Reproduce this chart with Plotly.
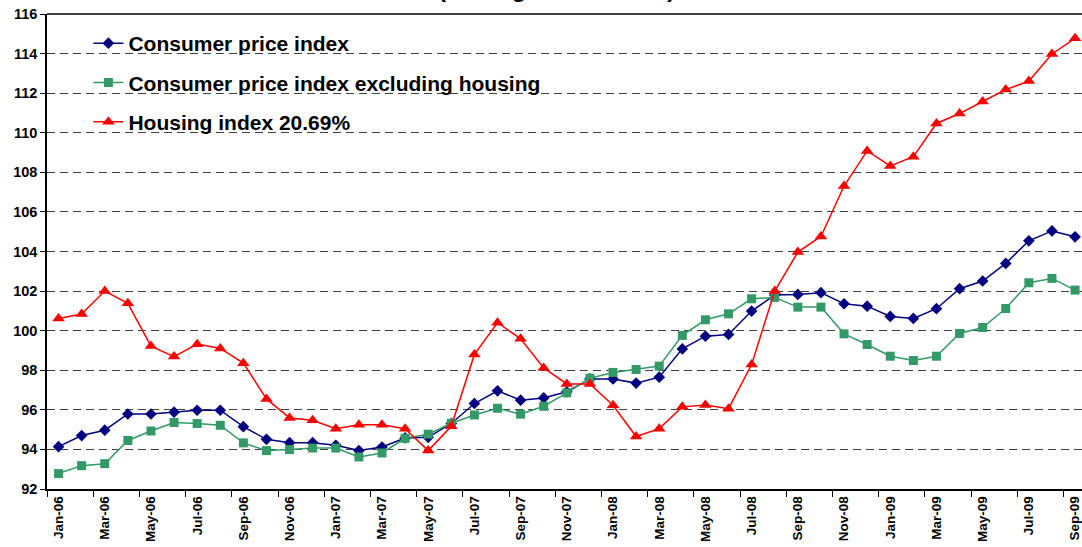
import plotly.graph_objects as go

months = ["Jan-06","Feb-06","Mar-06","Apr-06","May-06","Jun-06","Jul-06","Aug-06","Sep-06","Oct-06","Nov-06","Dec-06",
          "Jan-07","Feb-07","Mar-07","Apr-07","May-07","Jun-07","Jul-07","Aug-07","Sep-07","Oct-07","Nov-07","Dec-07",
          "Jan-08","Feb-08","Mar-08","Apr-08","May-08","Jun-08","Jul-08","Aug-08","Sep-08","Oct-08","Nov-08","Dec-08",
          "Jan-09","Feb-09","Mar-09","Apr-09","May-09","Jun-09","Jul-09","Aug-09","Sep-09"]

cpi = [94.14, 94.70, 94.97, 95.79, 95.79, 95.88, 95.98, 95.98, 95.15, 94.51, 94.34, 94.34,
       94.21, 93.94, 94.12, 94.58, 94.61, 95.31, 96.32, 96.96, 96.49, 96.60, 96.91, 97.56,
       97.56, 97.35, 97.65, 99.08, 99.72, 99.81, 100.99, 101.80, 101.83, 101.92, 101.36, 101.24,
       100.72, 100.62, 101.11, 102.12, 102.51, 103.40, 104.54, 105.04, 104.74]

cpi_ex_housing = [92.78, 93.18, 93.28, 94.45, 94.93, 95.36, 95.31, 95.22, 94.33, 93.94, 93.99, 94.07,
                  94.07, 93.62, 93.82, 94.56, 94.77, 95.32, 95.74, 96.08, 95.78, 96.18, 96.86, 97.60,
                  97.89, 98.04, 98.21, 99.76, 100.55, 100.85, 101.61, 101.68, 101.19, 101.19, 99.84, 99.30,
                  98.71, 98.49, 98.71, 99.86, 100.16, 101.12, 102.42, 102.64, 102.05]

housing = [100.62, 100.84, 102.00, 101.38, 99.22, 98.69, 99.32, 99.10, 98.36, 96.55, 95.59, 95.47,
           95.05, 95.25, 95.25, 95.05, 93.94, 95.17, 98.80, 100.40, 99.59, 98.12, 97.31, 97.31,
           96.23, 94.65, 95.05, 96.15, 96.25, 96.06, 98.29, 102.00, 103.97, 104.76, 107.31, 109.08,
           108.32, 108.79, 110.47, 110.97, 111.58, 112.18, 112.61, 113.98, 114.77]

names = ["Consumer price index", "Consumer price index excluding housing", "Housing index 20.69%"]
title_text = "(Average 2005 = 100)"

FONT = "Arial, Liberation Sans, sans-serif"

fig = go.Figure()
fig.add_trace(go.Scatter(x=months, y=cpi, name=names[0], mode="lines+markers", legendgroup="a",
                         line=dict(color="#000080", width=1.5),
                         marker=dict(symbol="diamond", size=9, color="#000080")))
fig.add_trace(go.Scatter(x=months, y=cpi_ex_housing, name=names[1], mode="lines+markers", legendgroup="b",
                         line=dict(color="#339966", width=1.5),
                         marker=dict(symbol="square", size=9, color="#339966")))
fig.add_trace(go.Scatter(x=months, y=housing, name=names[2], mode="lines+markers", legendgroup="c",
                         line=dict(color="#FF0000", width=1.5),
                         marker=dict(symbol="triangle-up", size=11, color="#FF0000")))

fig.add_shape(type="rect", xref="paper", yref="paper", x0=0.002, x1=0.51, y0=0.715, y1=0.995,
              fillcolor="white", line=dict(width=0), layer="between")

fig.add_annotation(text="<b>" + title_text + "</b>", xref="paper", yref="paper", x=0.492, y=1,
                   yanchor="bottom", yshift=10, showarrow=False,
                   font=dict(family=FONT, size=24, color="black"))

fig.update_layout(
    width=1082, height=547,
    margin=dict(l=47, r=0, t=14, b=58, autoexpand=False),
    paper_bgcolor="white", plot_bgcolor="white",
    font=dict(family=FONT, color="black"),
    showlegend=True,
    legend=dict(x=0.04, y=0.981, xanchor="left", yanchor="top", bgcolor="rgba(0,0,0,0)",
                font=dict(size=21, family=FONT, color="black", weight="bold"),
                traceorder="grouped", tracegroupgap=9, itemwidth=30),
    xaxis=dict(type="category", range=[-0.5, 44.3], tickmode="linear", tick0=0, dtick=2,
               tickson="boundaries", ticks="outside", ticklen=6, tickcolor="black",
               showline=True, linecolor="black", linewidth=1.5, showgrid=False, automargin=False,
               tickangle=-90, tickfont=dict(size=13.5, weight="bold")),
    yaxis=dict(range=[92, 116], dtick=2, ticks="outside", ticklen=5, tickcolor="black",
               showline=True, linecolor="black", linewidth=1.5, mirror=False, automargin=False,
               showgrid=True, gridcolor="#404040", gridwidth=1, griddash="8px,5px",
               zeroline=False, tickfont=dict(size=14.5, weight="bold")),
)
# top border line
fig.add_shape(type="line", xref="paper", yref="paper", x0=0, x1=1, y0=1, y1=1,
              line=dict(color="black", width=1.5), layer="above")

fig.write_html("out.html", config={"displayModeBar": False},
               post_script="document.body.style.margin='0';document.body.style.overflow='hidden';")
